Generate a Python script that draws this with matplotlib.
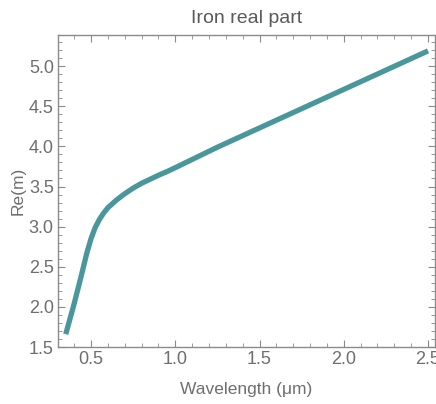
import matplotlib
matplotlib.use("Agg")
import matplotlib.pyplot as plt
from matplotlib.ticker import MultipleLocator

# wavelength (um) and real part of refractive index
wavelength = [0.35, 0.40, 0.44, 0.475, 0.50, 0.525, 0.55, 0.575, 0.60, 0.65,
              0.70, 0.75, 0.80, 0.85, 0.90, 0.95, 1.00, 1.25, 1.50, 1.75,
              2.00, 2.25, 2.50]
re_m = [1.66, 2.04, 2.37, 2.67, 2.85, 2.99, 3.09, 3.17, 3.235, 3.33,
        3.41, 3.48, 3.54, 3.59, 3.64, 3.685, 3.735, 3.99, 4.23, 4.47,
        4.71, 4.95, 5.19]

plt.rcParams['font.family'] = ['Liberation Sans', 'DejaVu Sans']

fig = plt.figure(figsize=(4.36, 4.04), dpi=100)
ax = fig.add_axes([0.133, 0.141, 0.865, 0.772])

ax.plot(wavelength, re_m, color='#4a979b', lw=3.8, solid_capstyle='butt',
        solid_joinstyle='round')

ax.set_xlim(0.304, 2.542)
ax.set_ylim(1.5, 5.386)

ax.xaxis.set_major_locator(MultipleLocator(0.5))
ax.xaxis.set_minor_locator(MultipleLocator(0.1))
ax.yaxis.set_major_locator(MultipleLocator(0.5))
ax.yaxis.set_minor_locator(MultipleLocator(0.1))
ax.xaxis.set_major_formatter(plt.FuncFormatter(lambda v, _: f'{v:.1f}'))
ax.yaxis.set_major_formatter(plt.FuncFormatter(lambda v, _: f'{v:.1f}'))

gray = '#8a8a8a'
for s in ax.spines.values():
    s.set_color(gray)
    s.set_linewidth(1.0)
ax.tick_params(which='both', direction='in', top=True, right=True, color=gray,
               labelcolor='#6e6e6e', labelsize=13, pad=3)
ax.tick_params(which='major', length=5, width=0.8)
ax.tick_params(which='minor', length=3, width=0.6)

ax.set_title('Iron real part', fontsize=14, color='#5a5a5a', pad=9)
ax.set_xlabel('Wavelength (μm)', fontsize=12.5, color='#6e6e6e', labelpad=10)
ax.set_ylabel('Re(m)', fontsize=12.5, color='#6e6e6e', labelpad=2)

fig.savefig('out.png', dpi=100)
